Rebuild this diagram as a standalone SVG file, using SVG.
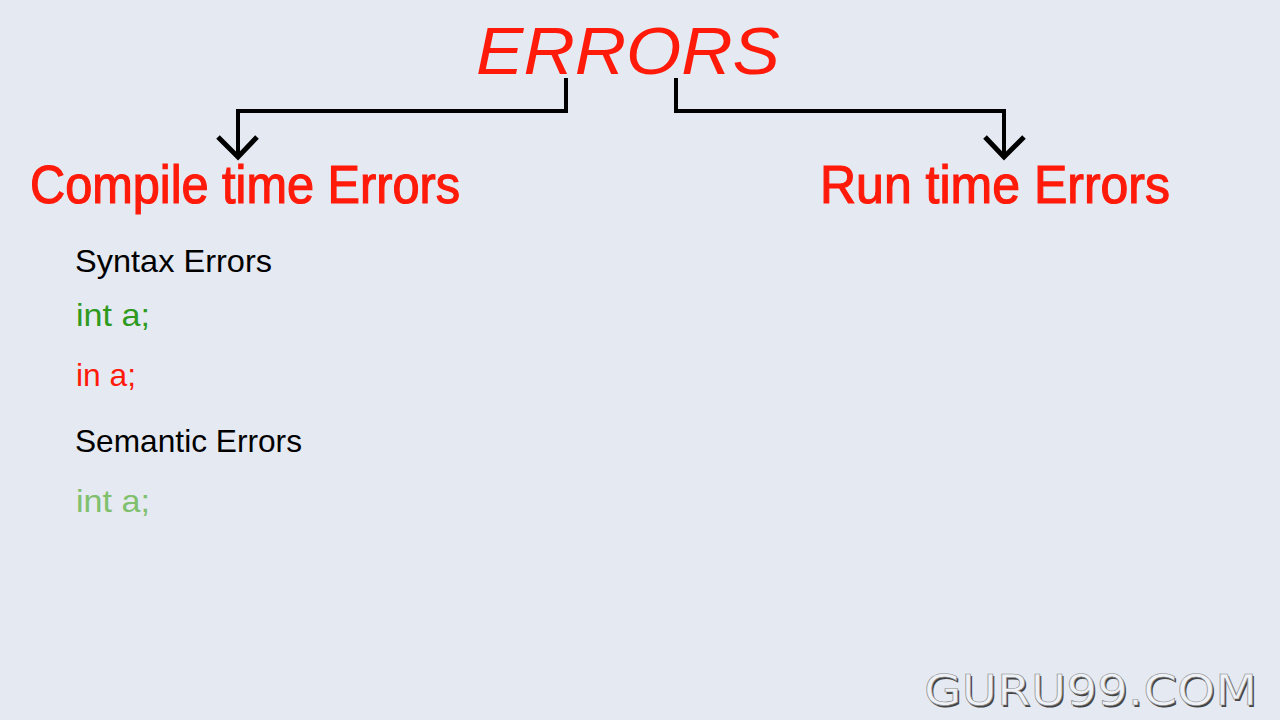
<svg xmlns="http://www.w3.org/2000/svg" width="1280" height="720" viewBox="0 0 1280 720">
<style>
.title{font-family:"Liberation Sans",Arial,sans-serif;fill:#ff1a0a;}
.heavy{stroke:#ff1a0a;stroke-width:1.2;}
.body{font-family:"Liberation Sans",Arial,sans-serif;}
.conn{fill:none;stroke:#000;stroke-width:4;stroke-linejoin:miter;}
.head{fill:none;stroke:#000;stroke-width:5;stroke-linejoin:miter;}
.wm{font-family:"DejaVu Sans",sans-serif;font-size:42px;}
</style>
<rect width="1280" height="720" fill="#e5e9f1"/>
<g id="errors">
<text class="title" x="476" y="74" font-size="66" font-style="italic" textLength="304" lengthAdjust="spacingAndGlyphs">ERRORS</text>
</g>
<g id="compile">
<text class="title heavy" x="30" y="203" font-size="54" textLength="430" lengthAdjust="spacingAndGlyphs">Compile time Errors</text>
</g>
<g id="runtime">
<text class="title heavy" x="820" y="203" font-size="54" textLength="350" lengthAdjust="spacingAndGlyphs">Run time Errors</text>
</g>
<g id="connectors">
<polyline class="conn" points="566,78 566,111 238,111 238,156"/>
<polyline class="head" points="218,137 238,157 257,137"/>
<polyline class="conn" points="676,78 676,111 1004,111 1004,156"/>
<polyline class="head" points="985,137 1004,157 1024,137"/>
</g>
<g id="syntax">
<text class="body" x="75" y="272" font-size="32" fill="#000" textLength="197" lengthAdjust="spacingAndGlyphs">Syntax Errors</text>
<text class="body" x="76" y="326" font-size="32" fill="#2e9a1e" textLength="74" lengthAdjust="spacingAndGlyphs">int a;</text>
<text class="body" x="76" y="386" font-size="32" fill="#ff1a0a" textLength="60" lengthAdjust="spacingAndGlyphs">in a;</text>
</g>
<g id="semantic">
<text class="body" x="75" y="452" font-size="32" fill="#000" textLength="227" lengthAdjust="spacingAndGlyphs">Semantic Errors</text>
<text class="body" x="76" y="512" font-size="32" fill="#7fc06d" textLength="74" lengthAdjust="spacingAndGlyphs">int a;</text>
</g>
<g id="watermark">
<text class="wm" x="925.5" y="706.5" fill="#444" textLength="333" lengthAdjust="spacingAndGlyphs">GURU99.COM</text>
<text class="wm" x="924" y="705" fill="#eef1f6" stroke="#8a8a8a" stroke-width="0.6" textLength="333" lengthAdjust="spacingAndGlyphs">GURU99.COM</text>
</g>
</svg>
